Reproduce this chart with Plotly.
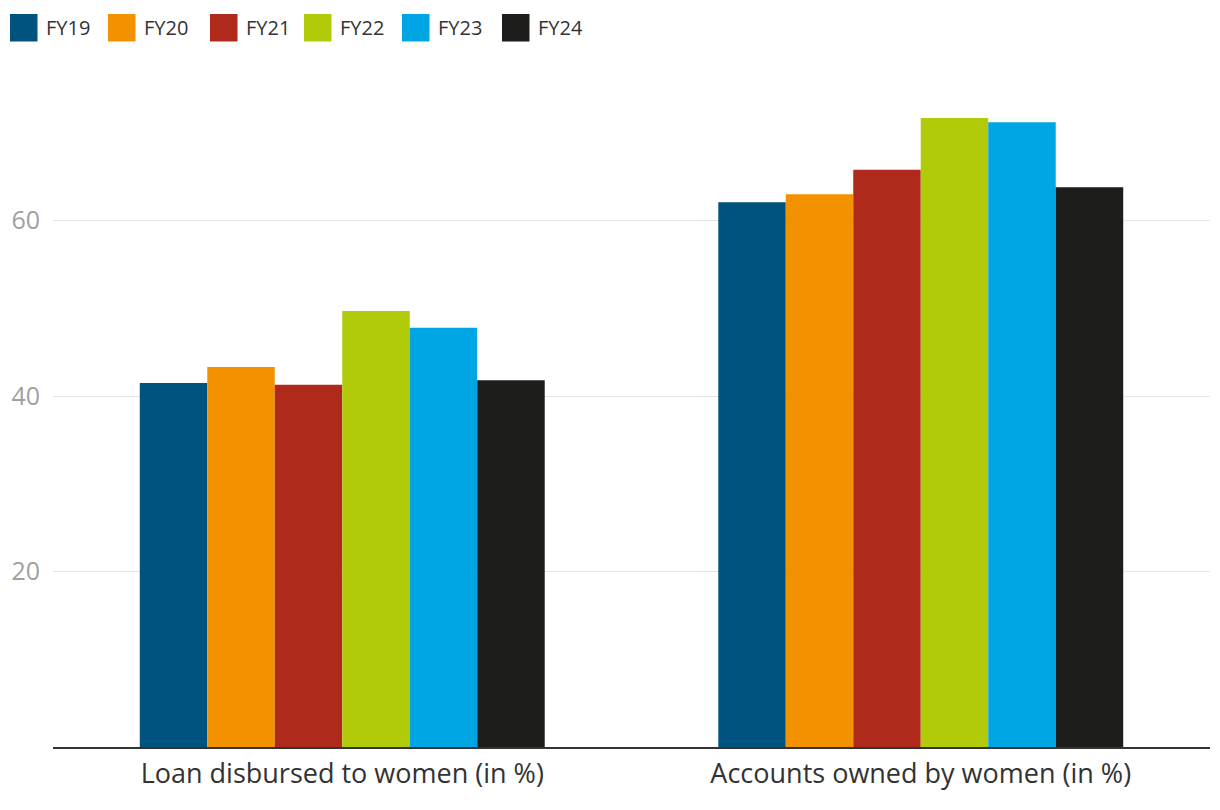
import plotly.graph_objects as go

categories = ["Loan disbursed to women (in %)", "Accounts owned by women (in %)"]
years = ["FY19", "FY20", "FY21", "FY22", "FY23", "FY24"]
fy19 = [41.5, 62.1]
fy20 = [43.3, 63.0]
fy21 = [41.3, 65.8]
fy22 = [49.7, 71.7]
fy23 = [47.8, 71.2]
fy24 = [41.8, 63.8]
series = [fy19, fy20, fy21, fy22, fy23, fy24]
colors = ["#00527f", "#f39200", "#af2a1a", "#b1cb0b", "#00a6e4", "#1d1d1b"]
yticks = [20, 40, 60]

# layout geometry (pixels)
W, H = 1220, 810
ML, MR, MT, MB = 53, 10, 89, 63
PW, PH = W - ML - MR, H - MT - MB
LEGEND_X = [10, 108, 210, 304, 402, 502]
SQ_TOP, SQ = 14, 27.5


def px_x(px):
    return (px - ML) / PW


def px_y(py):
    return (H - MB - py) / PH


fig = go.Figure()
for name, vals, c in zip(years, series, colors):
    fig.add_trace(go.Bar(x=categories, y=vals, name=name, marker_color=c,
                         marker_line_width=0, showlegend=False))

shapes, annos = [], []
for name, c, lx in zip(years, colors, LEGEND_X):
    shapes.append(dict(type="rect", xref="paper", yref="paper",
                       x0=px_x(lx), x1=px_x(lx + SQ), y0=px_y(SQ_TOP + SQ), y1=px_y(SQ_TOP),
                       fillcolor=c, line_width=0, layer="above"))
    annos.append(dict(xref="paper", yref="paper", x=px_x(lx + SQ + 6), y=px_y(SQ_TOP + SQ / 2),
                      xanchor="left", yanchor="middle", text=name, showarrow=False,
                      font=dict(size=20, color="#333333")))

fig.update_layout(
    width=W, height=H,
    margin=dict(l=ML, r=MR, t=MT, b=MB),
    paper_bgcolor="white", plot_bgcolor="white",
    barmode="group", bargap=0.3, bargroupgap=0,
    font=dict(family="Open Sans", color="#333333"),
    showlegend=False, shapes=shapes, annotations=annos,
)
fig.update_xaxes(showline=True, linecolor="#333333", linewidth=2, ticks="",
                 tickfont=dict(size=27, color="#333333"), showgrid=False, ticklabelstandoff=2)
fig.update_yaxes(range=[0, 75], tickvals=yticks, showgrid=True, gridcolor="#e6e6e6",
                 gridwidth=1, zeroline=False, showline=False,
                 tickfont=dict(size=25, color="#a0a0a0"), ticklabelstandoff=12)

fig.write_html("out.html")
